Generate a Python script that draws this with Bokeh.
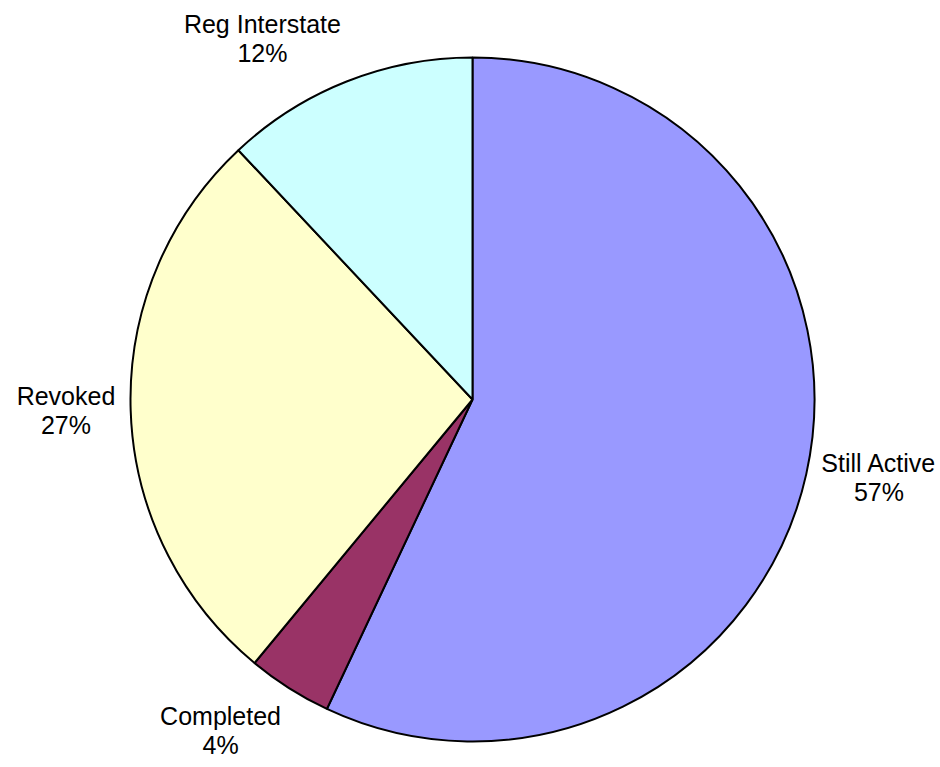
import math
from bokeh.plotting import figure
from bokeh.models import Range1d, ColumnDataSource
from bokeh.core.properties import value
from bokeh.embed import file_html
from bokeh.resources import INLINE

# ---- data ----
categories = ["Still Active", "Completed", "Revoked", "Reg Interstate"]
percents = [57, 4, 27, 12]
colors = ["#9999FF", "#993366", "#FFFFCC", "#CCFFFF"]

# ---- layout ----
W, H = 940, 767
CX, CY = 472, 399          # pie centre in figure pixels (from top-left)
R = 342                     # radius in pixels
FONT_PX = 25
PITCH = 29
LABEL_R = 1.045 * R

# Arial / Liberation Sans advance widths (1/1000 em)
AW = {" ": 278, "%": 889, "A": 667, "C": 722, "I": 278, "R": 722, "S": 667,
      "a": 556, "c": 500, "d": 556, "e": 556, "g": 556, "i": 222, "k": 500,
      "l": 222, "m": 833, "n": 556, "o": 556, "p": 556, "r": 333, "s": 500,
      "t": 278, "v": 500}
for dch in "0123456789":
    AW[dch] = 556


def text_w(s):
    return sum(AW.get(ch, 556) for ch in s) / 1000.0 * FONT_PX


total = float(sum(percents))
starts, ends, mids = [], [], []
acc = 0.0
for v in percents:
    a0 = acc / total * 2 * math.pi
    acc += v
    a1 = acc / total * 2 * math.pi
    starts.append(math.pi / 2 - a1)
    ends.append(math.pi / 2 - a0)
    mids.append((a0 + a1) / 2)

src = ColumnDataSource(dict(start=starts, end=ends, color=colors, cat=categories))

p = figure(width=W, height=H, output_backend="svg", toolbar_location=None,
           x_range=Range1d(-CX, W - CX), y_range=Range1d(-(H - CY), CY),
           min_border=0, background_fill_color="white", border_fill_color="white")
p.axis.visible = False
p.grid.visible = False
p.outline_line_color = None

p.wedge(x=0, y=0, radius=R, start_angle="start", end_angle="end",
        direction="anticlock", fill_color="color", line_color="black",
        line_width=2, source=src)

lx, ly, lt = [], [], []
for cat, pct, a in zip(categories, percents, mids):
    lines = [cat, "%d%%" % pct]
    bw = max(text_w(s) for s in lines)
    bh = PITCH * len(lines)
    sx, cy_ = math.sin(a), math.cos(a)
    ax, ay = LABEL_R * sx, LABEL_R * cy_
    if sx > 0.05:
        bx = ax + bw / 2
    elif sx < -0.05:
        bx = ax - bw / 2
    else:
        bx = ax
    if cy_ > 0.5:
        top = ay + bh
    elif cy_ < -0.5:
        top = ay
    else:
        top = ay + bh / 2
    for i, s in enumerate(lines):
        lx.append(bx)
        ly.append(top - PITCH * (i + 0.5))
        lt.append(s)

p.text(x=lx, y=ly, text=lt, text_align="center", text_baseline="middle",
       text_font=value("Liberation Sans"), text_font_size="%dpx" % FONT_PX,
       text_color="black")

open("out.html", "w").write(file_html(p, INLINE))
